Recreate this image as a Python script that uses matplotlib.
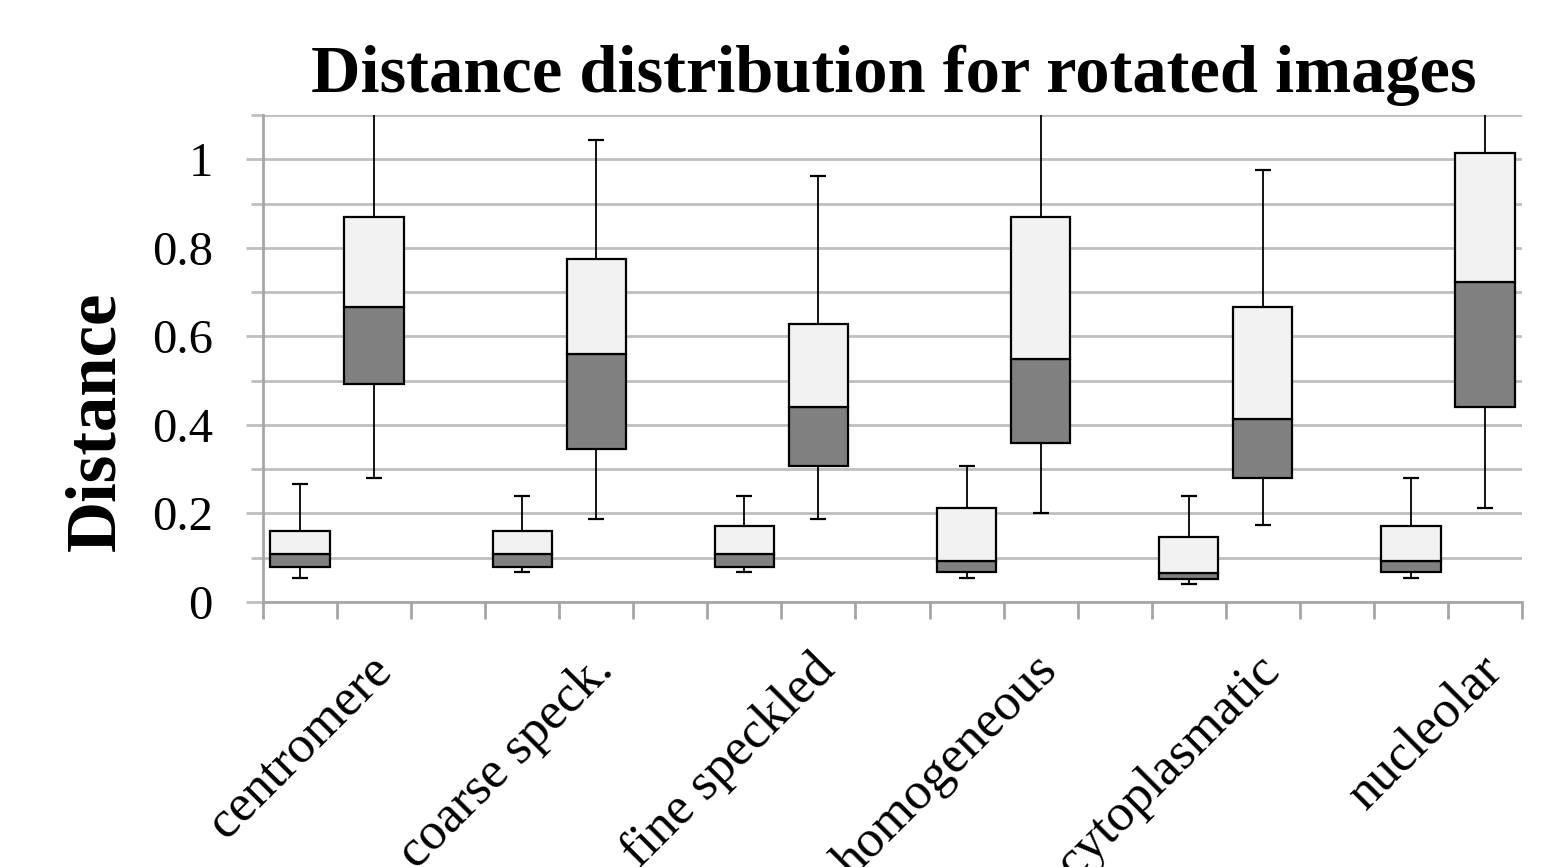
import matplotlib.pyplot as plt
import matplotlib.transforms as mtransforms
import numpy as np

categories = ['centromere', 'coarse speck.', 'fine speckled',
              'homogeneous', 'cytoplasmatic', 'nucleolar']

# left box of each pair
low_min = [0.054, 0.068, 0.068, 0.054, 0.041, 0.054]
low_q1 = [0.079, 0.079, 0.079, 0.068, 0.052, 0.068]
low_med = [0.109, 0.109, 0.109, 0.093, 0.066, 0.093]
low_q3 = [0.161, 0.161, 0.172, 0.213, 0.147, 0.172]
low_max = [0.267, 0.240, 0.240, 0.308, 0.240, 0.281]

# right box of each pair (rotated images)
high_min = [0.281, 0.188, 0.188, 0.201, 0.174, 0.213]
high_q1 = [0.493, 0.346, 0.308, 0.360, 0.281, 0.441]
high_med = [0.667, 0.561, 0.441, 0.548, 0.414, 0.722]
high_q3 = [0.869, 0.774, 0.629, 0.869, 0.667, 1.014]
high_max = [1.16, 1.043, 0.962, 1.16, 0.975, 1.16]

plt.rcParams['font.family'] = ['Liberation Serif', 'DejaVu Serif']

fig = plt.figure(figsize=(15.42, 8.67), dpi=100)
ax = fig.add_axes([263 / 1542, 1 - 602 / 867, (1522 - 263) / 1542, (602 - 115) / 867])

n = len(categories)
x_low = np.arange(n) * 3
x_high = np.arange(n) * 3 + 1
dark = '#808080'
light = '#f2f2f2'
grid_c = '#bfbfbf'


def draw_boxes(x, mn, q1, med, q3, mx):
    mn, q1, med, q3, mx = map(np.array, (mn, q1, med, q3, mx))
    ax.errorbar(x, med, yerr=[med - mn, mx - med], fmt='none', ecolor='black',
                elinewidth=1.3, capsize=6, capthick=1.6, zorder=2)
    ax.bar(x, med - q1, bottom=q1, width=0.8, color=dark, edgecolor='black',
           linewidth=1.6, zorder=3)
    ax.bar(x, q3 - med, bottom=med, width=0.8, color=light, edgecolor='black',
           linewidth=1.6, zorder=3)


draw_boxes(x_low, low_min, low_q1, low_med, low_q3, low_max)
draw_boxes(x_high, high_min, high_q1, high_med, high_q3, high_max)

ax.set_xlim(-0.5, 3 * n - 1.5)
ax.set_ylim(0, 1.1)
ax.set_yticks(np.arange(0, 1.01, 0.2))
ax.set_yticklabels(['0', '0.2', '0.4', '0.6', '0.8', '1'])
ax.set_yticks(np.arange(0.1, 1.11, 0.2), minor=True)
ax.set_xticks(np.arange(-0.5, 3 * n - 1.4, 1.0))
ax.set_xticklabels([])
ax.grid(axis='y', which='both', color=grid_c, linewidth=2)
ax.set_axisbelow(True)

ax.tick_params(axis='y', which='major', labelsize=35, length=12, width=2,
               color=grid_c, pad=24)
ax.tick_params(axis='y', which='minor', length=9, width=2, color=grid_c)
ax.tick_params(axis='x', which='major', length=12, width=2, color='#a6a6a6')
for s in ['top', 'right']:
    ax.spines[s].set_visible(False)
for s in ['left', 'bottom']:
    ax.spines[s].set_color('#a6a6a6')
    ax.spines[s].set_linewidth(2)

trans = mtransforms.blended_transform_factory(ax.transData, ax.transAxes)
for xi, lab in zip(x_high, categories):
    ax.text(xi - 0.1, -0.09, lab, transform=trans, rotation=45, ha='right',
            va='top', rotation_mode='anchor', fontsize=38)

fig.text(894 / 1542, 1 - 92 / 867, 'Distance distribution for rotated images',
         ha='center', va='baseline', fontsize=49.3, fontweight='bold')
fig.text(97 / 1542, 1 - 421 / 867, 'Distance', rotation=90, ha='center',
         va='center', fontsize=51, fontweight='bold')

fig.savefig('out.png', dpi=100)
